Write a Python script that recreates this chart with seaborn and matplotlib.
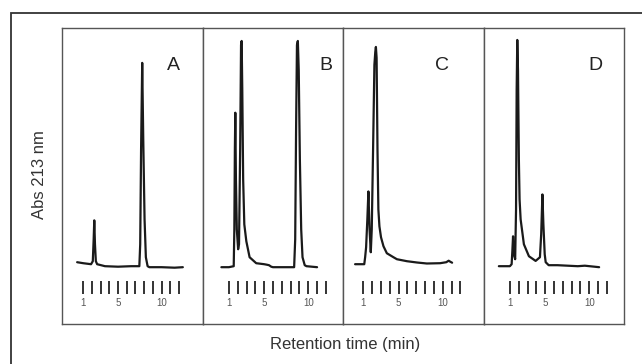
import matplotlib
matplotlib.use("Agg")
import matplotlib.pyplot as plt
import matplotlib.transforms as mtransforms
import seaborn as sns

# chromatogram traces: retention time (min), absorbance (arbitrary units)
a_time = [0.3, 1.0, 1.9, 2.1, 2.2, 2.27, 2.35, 2.45, 2.6, 3.5, 5.0, 6.5, 7.45, 7.55, 7.65,
          7.78, 7.9, 8.05, 8.2, 8.4, 8.6, 10.0, 11.5, 12.45]
a_abs = [7, 6, 5, 8, 30, 49, 25, 8, 5, 3, 2.5, 3, 3, 25, 120,
         207, 130, 50, 12, 3, 2, 2, 1.5, 2]

b_time = [0.15, 1.0, 1.55, 1.62, 1.68, 1.73, 1.8, 1.9, 2.05, 2.15, 2.28, 2.38, 2.45, 2.52,
          2.62, 2.75, 2.98, 3.35, 4.1, 5.0, 5.3, 5.55, 5.8, 6.0, 7.0, 8.4, 8.52, 8.62, 8.72,
          8.82, 8.92, 9.05, 9.2, 9.35, 9.6, 9.8, 11.0]
b_abs = [2, 2, 3, 40, 120, 157, 90, 40, 20, 25, 120, 225, 229, 180,
         90, 45, 28, 12, 6, 5, 4.5, 4, 2.5, 2, 2, 2, 30, 140, 225,
         229, 200, 110, 40, 12, 4, 3, 2]

c_time = [0.06, 1.1, 1.2, 1.31, 1.45, 1.57, 1.7, 1.84, 1.95, 2.1, 2.25, 2.35, 2.42, 2.5,
          2.6, 2.7, 2.82, 3.0, 3.28, 3.66, 4.41, 4.8, 5.94, 7.08, 8.2, 9.7, 10.4, 10.67,
          10.85, 11.06]
c_abs = [5, 5, 12, 22, 50, 78, 40, 17, 40, 120, 205, 218, 223, 212,
         120, 60, 43, 32, 23, 16, 12, 10, 8, 6.7, 5.7, 6, 7, 8.5,
         7.5, 6.5]

d_time = [-0.25, 1.0, 1.2, 1.28, 1.36, 1.45, 1.6, 1.7, 1.77, 1.84, 1.92, 2.02, 2.1, 2.22,
          2.59, 3.16, 3.92, 4.41, 4.55, 4.69, 4.8, 4.95, 5.06, 5.4, 6.4, 8.7, 9.5, 11.12]
d_abs = [3, 3, 5, 18, 33, 15, 10, 60, 180, 230, 200, 110, 70, 50,
         25, 13, 8.3, 12, 35, 75, 45, 15, 7, 4, 4, 3, 3.5, 2]

panel_labels = ["A", "B", "C", "D"]
tick_minutes = list(range(1, 13))
tick_text = {1: "1", 5: "5", 10: "10"}

traces = [(a_time, a_abs), (b_time, b_abs), (c_time, c_abs), (d_time, d_abs)]
x_limits = [(-1.44, 14.71), (-1.99, 13.94), (-1.31, 14.62), (-1.99, 13.94)]
label_x = [0.79, 0.88, 0.705, 0.80]

sns.set_style("white")
plt.rcParams["font.family"] = ["Liberation Sans", "DejaVu Sans"]

fig, axes = plt.subplots(1, 4, figsize=(6.42, 3.64), dpi=100, sharey=True)
fig.subplots_adjust(left=62 / 642, right=624 / 642, top=1 - 28 / 364,
                    bottom=1 - 324 / 364, wspace=0)

for ax, (t, a), lim, lab, lx in zip(axes, traces, x_limits, panel_labels, label_x):
    sns.lineplot(x=t, y=a, ax=ax, color="#1a1a1a", linewidth=1.6)
    ax.set_xlim(*lim)
    ax.set_ylim(-55, 242)
    ax.set_xticks([])
    ax.set_yticks([])
    ax.set_xlabel("")
    ax.set_ylabel("")
    for s in ax.spines.values():
        s.set_color("#555555")
        s.set_linewidth(1.0)

    # small time scale drawn inside each panel
    trans = mtransforms.blended_transform_factory(ax.transData, ax.transAxes)
    ax.vlines(tick_minutes, 0.10, 0.145, transform=trans, color="#333333", linewidth=1.4)
    for m, txt in tick_text.items():
        ax.text(m, 0.07, txt, transform=trans, ha="center", va="center",
                fontsize=7, color="#555555")

    ax.text(lx, 0.875, lab, transform=ax.transAxes, ha="center", va="center",
            fontsize=14, color="#222222")

fig.text(40 / 642, 1 - 175 / 364, "Abs 213 nm", rotation=90, ha="center", va="center",
         fontsize=12, color="#333333")
fig.text(345 / 642, 1 - 345 / 364, "Retention time (min)", ha="center", va="center",
         fontsize=12, color="#333333")

# outer frame, cut off at right and bottom like the original scan
frame = plt.Rectangle((11 / 642, -0.05), 1.1, (364 - 13) / 364 + 0.05,
                      transform=fig.transFigure, fill=False, edgecolor="#333333",
                      linewidth=1.3)
fig.add_artist(frame)

fig.savefig("out.png", dpi=100)
